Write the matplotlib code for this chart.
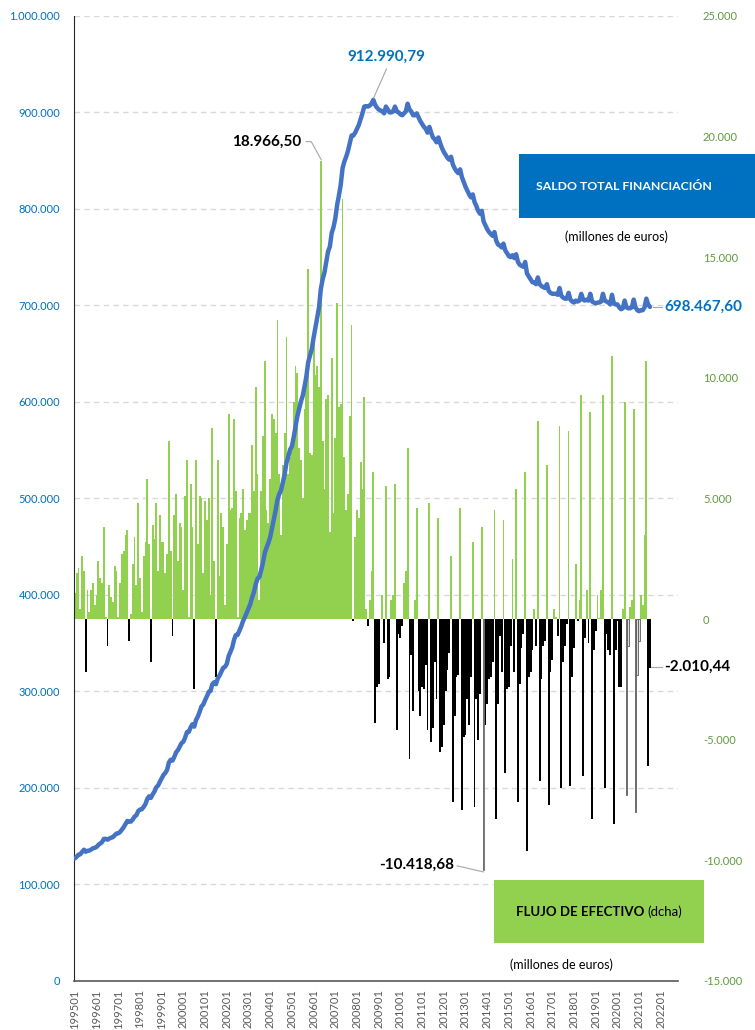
import matplotlib
matplotlib.use('Agg')
import matplotlib.pyplot as plt
from matplotlib.patches import Rectangle
from matplotlib.ticker import FuncFormatter
import numpy as np

plt.rcParams['font.family'] = ['Lato', 'DejaVu Sans']

# monthly flows, thousands of millions of euros (right axis), 1995-01 .. 2021-07
flujo_k = [
    1.1, 1.9, 2.1, 0.4, 2.6, 2.0, -2.2, 1.2, 0.3, 1.2, 1.5, 0.6,          # 1995
    1.0, 2.4, 1.7, 1.5, 3.8, 0.1, -1.1, 1.4, 0.9, 0.7, 2.2, 2.0,          # 1996
    0.1, 1.5, 2.7, 2.8, 3.5, 3.7, -0.9, 0.2, 2.3, 3.4, 1.4, 4.8,          # 1997
    1.7, 0.3, 2.6, 3.2, 5.8, 3.1, -1.8, 3.9, 3.3, 4.8, 2.0, 4.3,          # 1998
    3.2, 3.2, 1.9, 2.7, 7.4, 2.8, -0.7, 4.3, 5.2, 2.4, 4.0, 3.8,          # 1999
    1.2, 5.1, 6.6, 0.1, 5.6, 3.8, -2.9, 6.6, 3.1, 5.1, 5.0, 1.9,          # 2000
    4.9, 4.1, 5.0, 1.0, 7.9, 2.4, -2.4, 6.6, 1.8, 4.4, 3.8, 0.6,          # 2001
    3.1, 8.5, 4.5, 4.6, 8.3, 5.3, 0.1, 4.2, 4.4, 5.4, 3.7, 4.1,           # 2002
    4.4, 4.4, 7.2, 5.3, 9.6, 6.0, 0.8, 5.3, 7.6, 10.7, 4.5, 4.0,          # 2003
    5.8, 8.5, 8.3, 7.7, 12.4, 6.0, 3.5, 6.4, 7.7, 11.7, 6.0, 6.7,         # 2004
    7.2, 9.0, 10.5, 10.2, 7.1, 6.6, 5.0, 8.7, 9.8, 14.5, 6.9, 6.8,        # 2005
    11.5, 10.1, 10.5, 9.6, 18.9665, 7.4, 5.4, 9.1, 9.3, 3.6, 10.8, 4.4,   # 2006
    7.5, 13.1, 8.8, 8.9, 17.4, 6.7, 4.5, 5.2, 8.4, 12.2, -0.1, 3.4,       # 2007
    4.5, 4.2, 6.5, 5.4, 9.2, 0.4, -0.3, 0.8, 2.0, 6.1, -4.3, -2.8,        # 2008
    -2.7, 0.0, 1.0, -1.0, 5.5, -2.5, -2.4, 0.8, 1.0, 5.6, -4.6, -0.6,     # 2009
    -0.8, -0.3, 1.5, 2.0, 7.1, -5.8, -1.5, -3.8, 0.8, 4.6, -3.0, -4.0,    # 2010
    -2.8, -2.9, -1.9, -4.6, 4.8, -5.1, -4.5, -1.8, -3.3, 4.2, -5.5, -5.3, # 2011
    -4.4, -3.0, -2.1, -1.4, 2.6, -7.6, -4.0, -2.4, -2.3, 4.6, -7.9, -4.9, # 2012
    -4.8, -3.3, -4.4, -2.4, 3.2, -7.8, -3.3, -5.0, -3.1, 3.8, -10.41868, -4.4,  # 2013
    -3.5, -2.5, -2.4, -1.8, 4.5, -8.3, -3.5, -0.7, -2.2, 4.1, -6.4, -2.9, # 2014
    -2.8, -1.1, 2.5, -2.2, 5.4, -7.6, -2.7, -1.2, -0.6, 6.1, -9.6, -2.4,  # 2015
    -2.2, -1.3, 0.4, -1.1, 8.2, -6.7, -2.5, -1.1, -0.9, 6.4, -7.7, -2.2,  # 2016
    -1.7, 0.4, 0.1, -0.7, 8.0, -7.0, -1.8, -1.1, -0.2, 7.8, -6.9, -2.4,   # 2017
    -1.2, 2.3, -0.1, 0.8, 9.3, -6.5, -0.8, 1.2, -1.0, 8.6, -8.3, -1.3,    # 2018
    -0.5, 1.0, 0.05, 1.2, 9.3, -7.0, -0.6, -1.3, -1.5, 10.9, -8.5, -1.3,  # 2019
    -0.1, -2.8, -2.8, 0.4, 9.0, -7.3, -1.1, 0.5, 0.8, 8.7, -8.0, -2.3,    # 2020
    -0.9, 1.0, 0.6, 3.5, 10.7, -6.1, -2.01044,                            # 2021
]

# total balance, thousands of millions of euros (left axis)
saldo_k = [
    127.0, 128.8, 130.9, 131.3, 133.8, 136.0, 133.9, 134.9, 135.1, 136.2, 137.5, 138.0,
    138.9, 141.0, 142.5, 143.8, 147.2, 147.3, 146.4, 147.6, 148.4, 149.0, 151.0, 152.8,
    153.0, 154.4, 156.9, 159.4, 162.5, 165.8, 165.0, 165.2, 167.3, 170.4, 171.7, 176.0,
    177.6, 177.9, 180.3, 183.2, 188.5, 191.3, 189.7, 193.3, 196.3, 200.7, 202.5, 206.4,
    210.0, 213.5, 215.6, 218.8, 226.5, 229.2, 228.4, 232.3, 237.0, 239.3, 243.0, 246.5,
    248.0, 252.5, 258.0, 258.1, 262.8, 266.0, 263.5, 270.5, 274.0, 279.0, 284.5, 286.5,
    291.0, 295.0, 299.5, 300.5, 307.5, 309.5, 307.5, 313.5, 316.5, 320.5, 324.5, 325.5,
    328.5, 336.5, 341.0, 345.5, 353.5, 358.5, 358.6, 363.0, 367.5, 373.0, 377.0, 381.5,
    386.0, 390.5, 397.5, 403.0, 411.0, 417.0, 418.5, 425.5, 433.5, 443.5, 449.0, 454.0,
    460.0, 469.0, 478.5, 487.5, 498.5, 504.5, 508.5, 516.5, 525.0, 537.0, 543.5, 550.5,
    554.0, 563.5, 574.5, 585.0, 593.0, 600.5, 606.5, 616.0, 626.5, 641.0, 648.0, 655.0,
    666.5, 677.0, 688.0, 698.0, 717.0, 727.0, 734.0, 745.0, 756.0, 761.0, 775.0, 781.0,
    790.0, 804.0, 814.0, 825.0, 842.0, 849.0, 854.0, 860.0, 868.0, 876.0, 876.0, 879.0,
    883.0, 887.0, 893.0, 899.0, 906.0, 906.5, 906.0, 907.0, 909.0, 912.99079, 908.0, 905.0,
    903.0, 902.0, 901.0, 899.0, 906.0, 903.0, 900.0, 900.0, 901.0, 906.0, 901.0, 900.0,
    898.0, 897.0, 899.0, 901.0, 909.0, 903.0, 901.0, 897.0, 897.0, 899.0, 895.0, 891.0,
    888.0, 885.0, 883.0, 879.0, 885.0, 879.0, 874.0, 872.0, 869.0, 874.0, 868.0, 863.0,
    859.0, 856.0, 853.0, 851.0, 854.0, 846.0, 842.0, 839.0, 837.0, 841.0, 833.0, 828.0,
    823.0, 819.0, 815.0, 812.0, 815.0, 807.0, 803.0, 798.0, 795.0, 798.0, 787.0, 783.0,
    779.0, 776.0, 774.0, 772.0, 776.0, 767.0, 763.0, 762.0, 760.0, 764.0, 757.0, 754.0,
    751.0, 750.0, 752.0, 749.0, 753.0, 745.0, 742.0, 741.0, 740.0, 745.0, 733.0, 730.0,
    727.0, 724.0, 724.0, 722.0, 729.0, 722.0, 720.0, 719.0, 718.0, 722.0, 715.0, 713.0,
    712.0, 712.0, 712.0, 711.0, 718.0, 710.0, 708.0, 707.0, 707.0, 713.0, 706.0, 704.0,
    703.0, 705.0, 704.0, 705.0, 712.0, 706.0, 705.0, 706.0, 705.0, 712.0, 704.0, 703.0,
    702.0, 703.0, 703.0, 704.0, 712.0, 705.0, 704.0, 703.0, 701.0, 711.0, 702.0, 701.0,
    701.0, 698.0, 696.0, 697.0, 705.0, 698.0, 697.0, 697.0, 698.0, 706.0, 698.0, 695.0,
    694.0, 695.0, 695.0, 698.0, 707.0, 701.0, 698.4676,
]

years = list(range(1995, 2023))
tick_labels = [f'{y}01' for y in years]
n_categories = 334
min_idx = 226                      # highlighted minimum bar
hollow_idx = [305, 306, 310, 311, 312]

flujo = np.array(flujo_k) * 1000
saldo = np.array(saldo_k) * 1000
x = np.arange(len(flujo))

BLUE = '#0070C0'
LINE = '#4472C4'
GREEN = '#92D050'
GREEN_TXT = '#5E9A3C'

fig = plt.figure(figsize=(7.55, 10.30), dpi=100)
ax = fig.add_axes([0.098, 0.0476, 0.800, 0.937])
ax2 = ax.twinx()
ax.set_zorder(ax2.get_zorder() + 1)
ax.patch.set_visible(False)

# bars (right axis)
face = []
for i, v in enumerate(flujo):
    if i == min_idx:
        face.append('#7F7F7F')
    elif i in hollow_idx:
        face.append('#DDDDDD')
    elif v >= 0:
        face.append(GREEN)
    else:
        face.append('black')
ax2.bar(x, flujo, width=1.0, color=face, linewidth=0, zorder=2)
# outlined bars drawn again on top so their frame shows
hl = [min_idx] + hollow_idx
ax2.bar(x[hl], flujo[hl], width=1.0, color=[face[i] for i in hl],
        edgecolor=['#6F6F6F'] + ['#595959'] * len(hollow_idx), linewidth=0.6, zorder=2.5)
ax2.set_ylim(-15000, 25000)
ax2.set_yticks(np.arange(-15000, 25001, 5000))
ax2.yaxis.set_major_formatter(FuncFormatter(lambda v, p: f'{v:,.0f}'.replace(',', '.')))
ax2.tick_params(axis='y', length=0, pad=18, labelsize=8, labelcolor=GREEN_TXT)
for s in ax2.spines.values():
    s.set_visible(False)

# dashed gridlines at the left-axis ticks, drawn behind the bars
for g in range(100000, 1000001, 100000):
    ax2.axhline(-15000 + g / 1e6 * 40000, color='#D9D9D9', lw=1.0,
                ls=(0, (4, 3)), zorder=0)

# line (left axis)
ax.plot(x, saldo, color=LINE, lw=3.2, solid_capstyle='round', zorder=3)
ax.set_ylim(0, 1000000)
ax.set_yticks(np.arange(0, 1000001, 100000))
ax.yaxis.set_major_formatter(FuncFormatter(lambda v, p: f'{v:,.0f}'.replace(',', '.')))
ax.tick_params(axis='y', length=0, pad=10, labelsize=8, labelcolor=BLUE)
ax.set_xlim(-0.5, n_categories - 0.5)
ax.set_xticks(np.arange(0, len(years) * 12, 12))
ax.set_xticklabels(tick_labels, rotation=90, fontsize=8, color='#595959')
ax.tick_params(axis='x', length=0, pad=6)
ax.spines['top'].set_visible(False)
ax.spines['right'].set_visible(False)
ax.spines['left'].set_color('#262626')
ax.spines['bottom'].set_color('#595959')
ax.spines['bottom'].set_linewidth(1.2)

# value labels with leader lines
lead = dict(color='#A6A6A6', lw=0.8, zorder=4)
ax.text(172.3, 957500, '912.990,79', color=BLUE, fontsize=11, fontweight='bold',
        ha='center', va='center')
ax.plot([172.3, 165.2], [945000, 915000], **lead)

ax.text(125.4, 869500, '18.966,50', color='black', fontsize=11, fontweight='bold',
        ha='right', va='center')
ax.plot([127.9, 130.7, 136.2], [869700, 869700, 851000], **lead)

ax.text(209.9, 120200, '-10.418,68', color='black', fontsize=11, fontweight='bold',
        ha='right', va='center')
ax.plot([211.5, 225.9], [119200, 113000], **lead)

ax.text(325.8, 325400, '-2.010,44', color='black', fontsize=11, fontweight='bold',
        ha='left', va='center', clip_on=False)
ax.plot([318.6, 324.6], [325400, 325400], clip_on=False, **lead)

ax.text(325.8, 698400, '698.467,60', color=BLUE, fontsize=11, fontweight='bold',
        ha='left', va='center', clip_on=False)
ax.plot([319.8, 324.4], [698400, 698400], clip_on=False, **lead)

# legend-like boxes
fig.add_artist(Rectangle((0.687, 0.788), 0.313, 0.062, transform=fig.transFigure,
                         facecolor=BLUE, edgecolor='none', zorder=5))
fig.text(0.826, 0.819, 'SALDO TOTAL FINANCIACIÓN', color='white', fontsize=8.8,
         fontweight='bold', ha='center', va='center', zorder=6)
fig.text(0.817, 0.770, '(millones de euros)', color='black', fontsize=9,
         ha='center', va='center', zorder=6)

fig.add_artist(Rectangle((0.654, 0.0845), 0.278, 0.0611, transform=fig.transFigure,
                         facecolor=GREEN, edgecolor='none', zorder=5))
fig.text(0.853, 0.1146, 'FLUJO DE EFECTIVO', color='black', fontsize=9.5,
         fontweight='bold', ha='right', va='center', zorder=6)
fig.text(0.858, 0.1146, '(dcha)', color='black', fontsize=9.5,
         ha='left', va='center', zorder=6)
fig.text(0.744, 0.0631, '(millones de euros)', color='black', fontsize=9,
         ha='center', va='center', zorder=6)

fig.savefig('out.png', dpi=100)
